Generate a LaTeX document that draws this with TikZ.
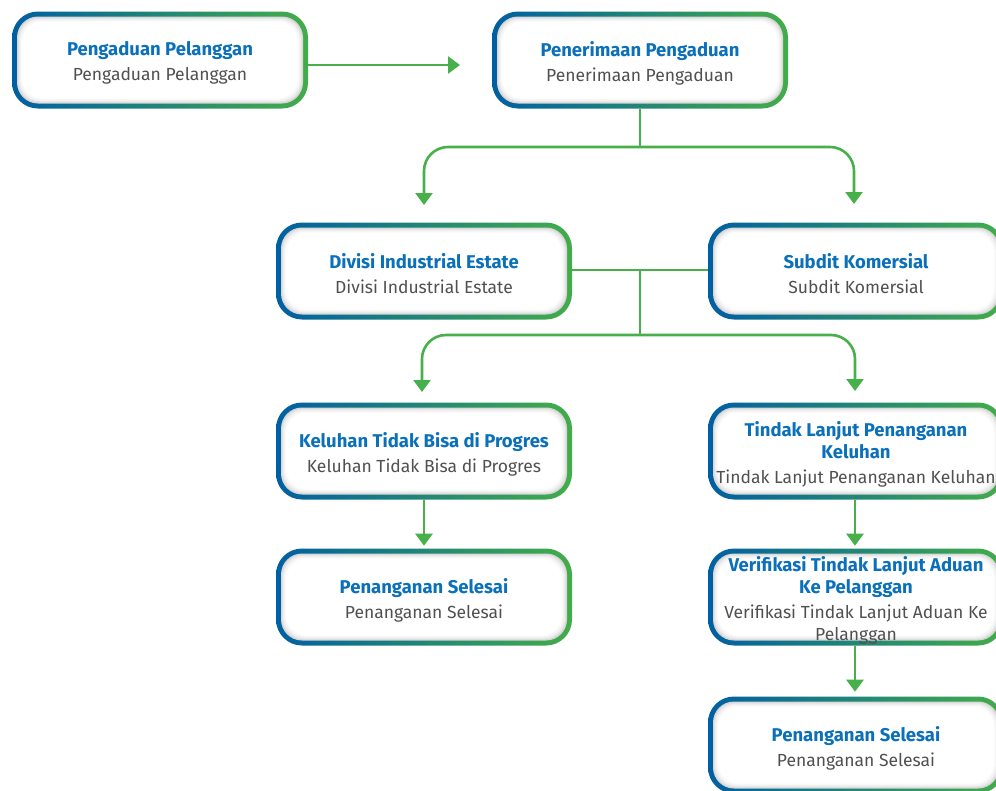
\documentclass[tikz,border=0pt]{standalone}
\usepackage{fontspec}
\setmainfont{Fira Sans}
\usetikzlibrary{arrows.meta}

\definecolor{bblue}{HTML}{005FA3}
\definecolor{bteal}{HTML}{00877C}
\definecolor{bgreen}{HTML}{43AD49}
\definecolor{titleblue}{HTML}{0A70BA}
\definecolor{subgray}{HTML}{505050}
\definecolor{linegreen}{HTML}{47B04B}

\tikzset{
  outerbox/.style={rectangle, rounded corners=26pt, minimum width=296pt,
    minimum height=97pt, inner sep=0pt, draw=none,
    left color=bblue, middle color=bteal, right color=bgreen},
  shadebox/.style={rectangle, rounded corners=21pt, inner sep=0pt, draw=none},
  boxtext/.style={align=center, text=subgray, inner sep=0pt,
    font=\fontsize{17.5}{22}\selectfont},
  conn/.style={draw=linegreen, line width=2.6pt},
  arr/.style={conn, -{Triangle[width=17pt,length=12pt]}},
}

\newcommand\titlestyle{\color{titleblue}\fontsize{18.5}{22}\selectfont\bfseries}
\newcommand\substyle{\color{subgray}\fontsize{17.5}{22}\selectfont\mdseries}

% rounded box with gradient border, soft inner shade and two text lines
\newcommand\flowbox[5]{%
  \node[outerbox] (#1) at (#2,#3) {};
  \foreach \i/\c in {5/16,6/11,7/7,8/4,9/2,10/0}{
    \node[shadebox, fill=black!\c, minimum width={296pt-2pt*\i},
      minimum height={97pt-2pt*\i}] at (#1.center) {};
  }
  \node[boxtext] (#1-t) at ([yshift=-3pt]#1.center) {\titlestyle #4\\[3pt]\substyle #5};
}

\begin{document}
\begin{tikzpicture}[x=1pt, y=-1pt]
  \useasboundingbox (0,0) rectangle (996,790);
  \clip (0,0) rectangle (996,790);

  \flowbox{b1}{160}{60}{Pengaduan Pelanggan}{Pengaduan Pelanggan}
  \flowbox{b2}{640}{60}{Penerimaan Pengaduan}{Penerimaan Pengaduan}
  \flowbox{b3}{424}{271}{Divisi Industrial Estate}{Divisi Industrial Estate}
  \flowbox{b4}{856}{271}{Subdit Komersial}{Subdit Komersial}
  \flowbox{b5}{424}{451}{Keluhan Tidak Bisa di Progres}{Keluhan Tidak Bisa di Progres}
  \flowbox{b6}{856}{451}{Tindak Lanjut Penanganan\\\titlestyle Keluhan}{Tindak Lanjut Penanganan Keluhan}
  \flowbox{b7}{424}{597}{Penanganan Selesai}{Penanganan Selesai}
  \flowbox{b8}{856}{597}{Verifikasi Tindak Lanjut Aduan\\\titlestyle Ke Pelanggan}{Verifikasi Tindak Lanjut Aduan Ke\\\substyle Pelanggan}
  \flowbox{b9}{856}{745}{Penanganan Selesai}{Penanganan Selesai}

  % connector end points and junctions
  \coordinate (e1) at (460,65);
  \coordinate (j1) at (640,147);
  \coordinate (t3) at (424,205);
  \coordinate (t4) at (854,204);
  \coordinate (j2) at (640,270);
  \coordinate (j3) at (640,335);
  \coordinate (t5) at (422,392);
  \coordinate (t6) at (855,391);

  \draw[arr] (b1.east |- e1) -- (e1);

  \draw[conn] (b2.south) -- (j1);
  \draw[arr, rounded corners=24pt] (j1) -| (t3);
  \draw[arr, rounded corners=24pt] (j1) -| (t4);

  \draw[conn] (b3.east |- j2) -- (b4.west |- j2);
  \draw[conn] (j2) -- (j3);
  \draw[arr, rounded corners=24pt] (j3) -| (t5);
  \draw[arr, rounded corners=24pt] (j3) -| (t6);

  \draw[arr] (b5.south) -- ++(0,46);
  \draw[arr] (b6.south -| t6) -- ++(0,46);
  \draw[arr] (b8.south -| t6) -- ++(0,46);
\end{tikzpicture}
\end{document}
